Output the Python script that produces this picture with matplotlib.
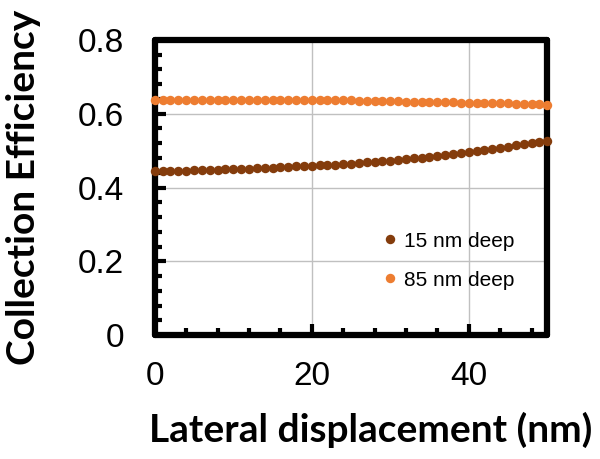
import matplotlib
matplotlib.use("Agg")
import matplotlib.pyplot as plt
from matplotlib.ticker import MultipleLocator

# Lateral displacement (nm)
displacement = list(range(0, 51))

# Collection efficiency for emitters 15 nm deep
eff_15nm = [
    0.445, 0.445, 0.445, 0.446, 0.446, 0.447, 0.447, 0.448, 0.448, 0.449,
    0.450, 0.450, 0.451, 0.452, 0.453, 0.454, 0.455, 0.456, 0.457, 0.458,
    0.459, 0.460, 0.461, 0.462, 0.464, 0.465, 0.467, 0.468, 0.470, 0.471,
    0.473, 0.475, 0.477, 0.479, 0.481, 0.483, 0.486, 0.488, 0.491, 0.494,
    0.497, 0.499, 0.502, 0.505, 0.508, 0.511, 0.514, 0.517, 0.520, 0.523,
    0.527,
]

# Collection efficiency for emitters 85 nm deep
eff_85nm = [
    0.637, 0.637, 0.637, 0.637, 0.637, 0.637, 0.637, 0.637, 0.637, 0.637,
    0.637, 0.637, 0.637, 0.637, 0.637, 0.637, 0.637, 0.637, 0.637, 0.637,
    0.637, 0.637, 0.636, 0.636, 0.636, 0.636, 0.635, 0.635, 0.635, 0.634,
    0.634, 0.634, 0.633, 0.633, 0.633, 0.632, 0.632, 0.631, 0.631, 0.630,
    0.630, 0.630, 0.629, 0.629, 0.628, 0.628, 0.627, 0.626, 0.625, 0.625,
    0.624,
]

series_labels = ["15 nm deep", "85 nm deep"]
x_label = "Lateral displacement (nm)"
y_label = "Collection Efficiency"

plt.rcParams["font.family"] = ["Liberation Sans", "DejaVu Sans"]

fig = plt.figure(figsize=(6.0, 4.59), dpi=100)
ax = fig.add_axes([0.258, 0.270, 0.654, 0.643])

c15 = "#843C0C"
c85 = "#ED7D31"

ax.plot(displacement, eff_15nm, "o", color=c15, markersize=6.8, markeredgewidth=0,
        label=series_labels[0], clip_on=False, zorder=5)
ax.plot(displacement, eff_85nm, "o", color=c85, markersize=6.8, markeredgewidth=0,
        label=series_labels[1], clip_on=False, zorder=5)

ax.set_xlim(0, 50)
ax.set_ylim(0, 0.8)
ax.xaxis.set_major_locator(MultipleLocator(20))
ax.xaxis.set_minor_locator(MultipleLocator(4))
ax.yaxis.set_minor_locator(MultipleLocator(0.04))
ax.set_yticks([0, 0.2, 0.4, 0.6, 0.8])
ax.set_yticklabels(["0", "0.2", "0.4", "0.6", "0.8"])

ax.grid(True, which="major", color="#C0C0C0", linewidth=1.0, zorder=0)
ax.set_axisbelow(True)

for side in ["top", "right", "bottom", "left"]:
    ax.spines[side].set_linewidth(4.5)
    ax.spines[side].set_color("black")
    ax.spines[side].set_capstyle("round")

ax.tick_params(which="both", direction="in", top=False, right=False,
               width=3, color="black")
ax.tick_params(which="major", length=8, labelsize=24)
ax.tick_params(which="minor", length=5)
ax.tick_params(axis="y", which="major", pad=22)
ax.tick_params(axis="x", which="major", pad=19)

label_font = dict(family=["Lato", "DejaVu Sans"], weight="bold", size=28)
ax.set_xlabel(x_label, va="top", **label_font)
ax.set_ylabel(y_label, **label_font)
ax.xaxis.set_label_coords(0.55, -0.26)
ax.yaxis.set_label_coords(-0.29, 0.5)

leg = ax.legend(loc="upper left", bbox_to_anchor=(0.584, 0.35), frameon=False,
                fontsize=15, handlelength=0.6, handletextpad=0.35,
                labelspacing=0.95, markerscale=1.0, borderaxespad=0,
                borderpad=0)

fig.savefig("out.png", dpi=100)
